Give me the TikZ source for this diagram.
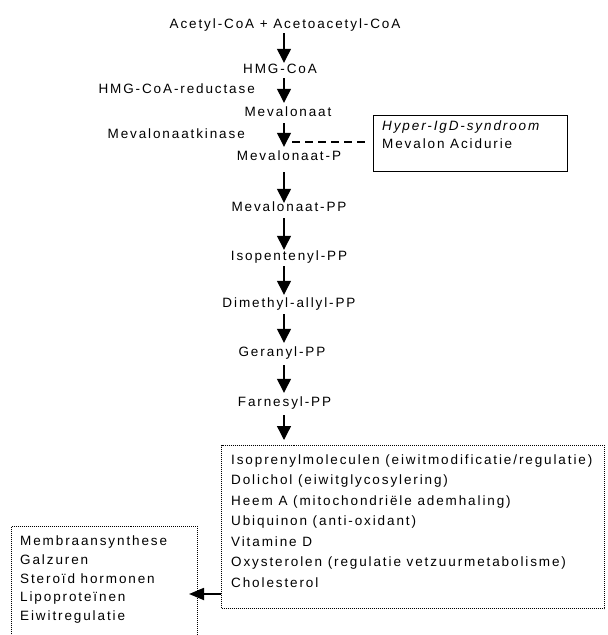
\documentclass[tikz,border=0pt]{standalone}
\usepackage{fontspec}
\setmainfont{Liberation Sans}[LetterSpace=14]
\usetikzlibrary{arrows.meta}
\newcommand\lstrut{\rule{0pt}{10pt}}
\begin{document}
\begin{tikzpicture}[x=1pt,y=-1pt,
  lbl/.style={font=\fontsize{13.5}{16}\selectfont, inner sep=0pt, text height=10pt, text depth=3pt},
  flow/.style={-{Triangle[width=14pt,length=14pt]}, line width=1.3pt},
  dotbox/.style={draw, line width=1pt, dash pattern=on 1pt off 1pt, inner sep=0pt, anchor=north west},
  listtext/.style={inner sep=0pt, align=left, anchor=north west},
]
\clip (0,0) rectangle (608,635);
\fill[white] (0,0) rectangle (608,635);
\coordinate (ax) at (284,0);
% metabolites
\node[lbl] (acetyl) at (285,25) {Acetyl-CoA + Acetoacetyl-CoA};
\node[lbl] (hmg) at (280,70) {HMG-CoA};
\node[lbl] (mev) at (288,113) {Mevalonaat};
\node[lbl] (mevp) at (289,157) {Mevalonaat-P};
\node[lbl] (mevpp) at (289,208) {Mevalonaat-PP};
\node[lbl] (ipp) at (289,257) {Isopentenyl-PP};
\node[lbl] (dmapp) at (289,304) {Dimethyl-allyl-PP};
\node[lbl] (gpp) at (282,353) {Geranyl-PP};
\node[lbl] (fpp) at (284.5,403) {Farnesyl-PP};
% enzymes
\node[lbl, anchor=east] (red) at (255,90) {HMG-CoA-reductase};
\node[lbl, anchor=east] (kin) at (245,135) {Mevalonaatkinase};
% boxes
\node[draw, line width=1.2pt, minimum width=194pt, minimum height=56pt, inner sep=0pt, anchor=north west] (hyper) at (373,115) {};
\node[listtext, font=\fontsize{13.5}{18}\selectfont] (hypertext) at ([shift={(9,5.5)}]hyper.north west) {\lstrut\textit{Hyper-IgD-syndroom}\\Mevalon Acidurie};
\node[dotbox, minimum width=383pt, minimum height=163pt] (big) at (221,445) {};
\node[listtext, font=\fontsize{13.5}{20.5}\selectfont] (bigtext) at ([shift={(10,9)}]big.north west) {\lstrut Isoprenylmoleculen (eiwitmodificatie/regulatie)\\Dolichol (eiwitglycosylering)\\Heem A (mitochondriële ademhaling)\\Ubiquinon (anti-oxidant)\\Vitamine D\\Oxysterolen (regulatie vetzuurmetabolisme)\\Cholesterol};
\node[dotbox, minimum width=186pt, minimum height=130pt] (small) at (11,526) {};
\node[listtext, font=\fontsize{13.5}{18.75}\selectfont] (smalltext) at ([shift={(9,9.5)}]small.north west) {\lstrut Membraansynthese\\Galzuren\\Steroïd hormonen\\Lipoproteïnen\\Eiwitregulatie};
% arrows
\draw[flow, shorten <=1.5pt, shorten >=0.5pt] (acetyl.south -| ax) -- (hmg.north -| ax);
\draw[flow, shorten <=1.5pt, shorten >=3.5pt] (hmg.south -| ax) -- (mev.north -| ax);
\draw[flow, shorten <=3.5pt, shorten >=3.5pt] (mev.south -| ax) -- (mevp.north -| ax);
\draw[flow, shorten <=8.5pt, shorten >=-1.5pt] (mevp.south -| ax) -- (mevpp.north -| ax);
\draw[flow, shorten <=3.5pt, shorten >=0.5pt] (mevpp.south -| ax) -- (ipp.north -| ax);
\draw[flow, shorten <=2.5pt, shorten >=2.5pt] (ipp.south -| ax) -- (dmapp.north -| ax);
\draw[flow, shorten <=3.5pt, shorten >=3.5pt] (dmapp.south -| ax) -- (gpp.north -| ax);
\draw[flow, shorten <=5.5pt, shorten >=3.5pt] (gpp.south -| ax) -- (fpp.north -| ax);
\draw[flow, shorten <=5.5pt, shorten >=5pt] (fpp.south -| ax) -- (big.north -| ax);
% dashed link
\coordinate (dl) at (292,142);
\draw[line width=1.2pt, dash pattern=on 8pt off 5pt, shorten >=5pt] (dl) -- (hyper.west |- dl);
% output arrow
\coordinate (ly) at (0,594);
\draw[line width=1.8pt, -{Triangle[width=12pt,length=15pt]}, shorten >=-9pt] (big.west |- ly) -- (small.east |- ly);
\end{tikzpicture}
\end{document}
